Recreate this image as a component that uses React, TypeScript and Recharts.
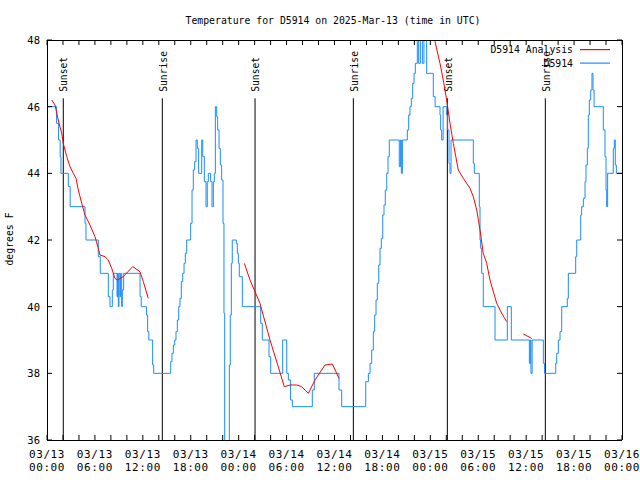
import { LineChart, Line, XAxis, YAxis, ReferenceLine } from "recharts";

const MONO = "'DejaVu Sans Mono', 'Liberation Mono', monospace";

// hours since 03/13 00:00 UTC, temperature F (observations, drawn as steps)
const observed: [number, number][] = [
  [0, 46], [1.2, 45.5], [1.45, 45], [1.65, 44.5], [1.75, 44], [2.67, 43.6], [2.9, 43],
  [4.76, 42.5], [4.88, 42], [6.42, 41.5], [6.67, 41], [7.68, 40.3], [7.89, 40], [8.18, 40.5],
  [8.3, 41], [8.77, 40.3], [8.85, 41], [8.93, 40], [9.01, 41], [9.14, 40.3], [9.22, 41],
  [9.35, 40], [9.43, 40.5], [9.6, 41], [11.65, 40.3], [11.8, 40], [12.45, 39.75], [12.6, 39.25],
  [12.75, 39], [13.23, 38.25], [13.36, 38], [15.49, 38.35], [15.65, 38.6], [15.82, 38.85],
  [15.99, 39], [16.15, 39.25], [16.32, 39.6], [16.49, 40], [16.65, 40.25], [16.82, 40.75],
  [16.99, 41], [17.16, 41.3], [17.32, 41.6], [17.49, 42], [17.99, 42.5], [18.16, 43.5],
  [18.32, 44.1], [18.49, 44.35], [18.66, 45], [18.82, 44.75], [18.99, 44], [19.37, 45],
  [19.5, 44.5], [19.7, 43.75], [19.91, 43], [20.07, 43.75], [20.2, 44], [20.49, 43.75],
  [20.66, 43], [20.83, 43.75], [20.95, 44], [21.08, 46], [21.25, 45.7], [21.37, 45.3],
  [21.54, 44.75], [21.7, 44.25], [21.87, 43.8], [22.04, 42.5], [22.16, 39.8], [22.25, 35.5],
  [22.83, 38.25], [22.95, 39.75], [23.08, 41.3], [23.2, 42], [23.7, 41.9], [23.83, 41.6],
  [23.96, 41.3], [24.08, 40.9], [24.46, 40], [26.76, 39.5], [26.96, 39], [27.8, 38.5],
  [28.01, 38], [29.51, 39], [30.02, 38], [30.22, 37.8], [30.5, 37.2], [30.72, 37],
  [33.22, 37.5], [33.47, 38], [36.56, 37.5], [36.9, 37], [39.91, 37.75], [40.24, 38],
  [40.45, 38.3], [40.66, 38.7], [40.86, 39.25], [41.03, 39.75], [41.2, 40.2], [41.36, 40.7],
  [41.54, 41.25], [41.7, 41.75], [41.86, 42.05], [42.04, 42.75], [42.2, 43.05], [42.36, 43.5],
  [42.54, 44], [42.7, 44.5], [42.86, 45], [44.11, 44.2], [44.25, 45], [44.37, 44], [44.5, 45],
  [45.12, 45.3], [45.29, 45.75], [45.45, 46], [45.62, 46.25], [45.79, 46.7], [45.96, 47],
  [46.12, 47.3], [46.37, 48.2], [46.54, 47.3], [46.75, 48.2], [47.0, 47.3], [47.2, 48.2],
  [47.54, 47], [48.37, 46.3], [48.6, 46], [49.21, 45.75],
  [49.29, 45.3], [49.42, 45], [49.6, 46], [50.05, 45.75], [50.17, 45.3], [50.34, 44.3],
  [50.46, 44], [50.59, 45], [53.38, 44.3], [53.51, 44], [54.13, 43], [54.22, 42],
  [54.3, 41.75], [54.43, 41], [54.63, 40], [56.1, 39], [57.64, 40], [58.14, 39], [60.4, 38.3],
  [60.52, 39], [60.6, 38], [60.75, 39], [62.15, 38.3], [62.3, 38], [63.7, 38.3], [63.82, 38.6],
  [64.03, 39], [64.24, 39.25], [64.45, 40], [65.15, 40.25], [65.28, 41], [66.2, 41.5],
  [66.33, 42], [66.83, 42.75], [66.95, 43], [67.16, 43.25], [67.37, 43.75], [67.49, 44.25],
  [67.66, 44.75], [67.78, 45.75], [67.91, 46.2], [68.08, 46.5], [68.24, 47], [68.37, 46.5],
  [68.5, 46], [69.66, 45.3], [69.87, 44.5], [70.0, 43.5], [70.08, 43], [70.2, 44],
  [70.91, 44.75], [71.04, 45], [71.16, 44.25], [71.29, 44], [72, 44],
];

// analysis runs (gaps between them)
const analysisRun1: [number, number][] = [
  [0.59, 46.2], [1.0, 46.05], [1.41, 45.6], [1.84, 45.2], [2.04, 44.9], [2.47, 44.5],
  [2.88, 44.2], [3.29, 44.0], [3.63, 43.85], [3.92, 43.5], [4.35, 43.1], [4.76, 42.75],
  [5.38, 42.45], [6.01, 42.1], [6.42, 41.75], [6.64, 41.55], [7.26, 41.5], [7.68, 41.4],
  [8.1, 41.15], [8.51, 40.85], [8.8, 40.8], [9.55, 40.9], [10.73, 41.2], [11.65, 41.05],
  [12.06, 40.75], [12.68, 40.25],
];
const analysisRun2: [number, number][] = [
  [24.71, 41.3], [25.42, 40.8], [26.05, 40.45], [26.67, 40.1], [27.92, 39.0], [28.96, 38.2],
  [29.71, 37.6], [30.43, 37.65], [31.27, 37.65], [31.89, 37.6], [32.72, 37.4], [33.56, 37.8],
  [34.81, 38.25], [35.73, 38.28], [36.56, 37.85],
];
const analysisRun3: [number, number][] = [
  [48.33, 48.2], [48.59, 47.95], [49.21, 47.3], [49.62, 46.8], [50.05, 46.2], [50.46, 45.5],
  [50.88, 44.9], [51.5, 44.1], [52.13, 43.85], [52.97, 43.55], [53.38, 43.3], [53.81, 42.9],
  [54.22, 42.3], [54.63, 41.6], [55.06, 41.3], [55.47, 40.8], [56.31, 40.1], [56.94, 39.8],
  [57.56, 39.55],
];
const analysisRun4: [number, number][] = [[59.64, 39.18], [60.69, 39.05]];

const sunEvents = [
  { h: 2.04, name: "Sunset" },
  { h: 14.44, name: "Sunrise" },
  { h: 26.05, name: "Sunset" },
  { h: 38.36, name: "Sunrise" },
  { h: 50.13, name: "Sunset" },
  { h: 62.4, name: "Sunrise" },
];
const sunLineTop = 46.25;

const hourTicks = [0, 2, 4, 6, 8, 10, 12, 14, 16, 18, 20, 22, 24, 26, 28, 30, 32, 34, 36, 38,
  40, 42, 44, 46, 48, 50, 52, 54, 56, 58, 60, 62, 64, 66, 68, 70, 72];
const labelHours = [0, 6, 12, 18, 24, 30, 36, 42, 48, 54, 60, 66, 72];
const labelDates = ["03/13", "03/13", "03/13", "03/13", "03/14", "03/14", "03/14", "03/14",
  "03/15", "03/15", "03/15", "03/15", "03/16"];
const labelClock = ["00:00", "06:00", "12:00", "18:00", "00:00", "06:00", "12:00", "18:00",
  "00:00", "06:00", "12:00", "18:00", "00:00"];
const tempTicks = [36, 38, 40, 42, 44, 46, 48];

const obsData = observed.map(([h, v]) => ({ h, v }));
const analysisData = [analysisRun1, analysisRun2, analysisRun3, analysisRun4].flatMap((run, i, all) => {
  const pts = run.map(([h, v]) => ({ h, v: v as number | null }));
  if (i < all.length - 1) pts.push({ h: (run[run.length - 1][0] + all[i + 1][0][0]) / 2, v: null });
  return pts;
});

const BottomTick = (props: any) => {
  const { x, y, payload } = props;
  const i = labelHours.indexOf(payload.value);
  return (
    <g>
      <line x1={x} x2={x} y1={y} y2={y - 5} stroke="#000" />
      {i >= 0 && (
        <text x={x} y={y} textAnchor="middle" fontFamily={MONO} fontSize={11} letterSpacing={0.6} fill="#000">
          <tspan x={x} dy={18.3}>{labelDates[i]}</tspan>
          <tspan x={x} dy={12.5}>{labelClock[i]}</tspan>
        </text>
      )}
    </g>
  );
};

const TopTick = (props: any) => {
  const { x, y } = props;
  return <line x1={x} x2={x} y1={y} y2={y + 5} stroke="#000" />;
};

const LeftTick = (props: any) => {
  const { x, y, payload } = props;
  return (
    <g>
      <line x1={x + 7} x2={x + 12} y1={y} y2={y} stroke="#000" />
      <text x={x} y={y} dy={4} textAnchor="end" fontFamily={MONO} fontSize={10.5} fill="#000">
        {payload.value}
      </text>
    </g>
  );
};

const RightTick = (props: any) => {
  const { x, y } = props;
  return <line x1={x} x2={x - 5} y1={y} y2={y} stroke="#000" />;
};

const sunLabel = (text: string) => (props: any) => {
  const vb = props.viewBox || {};
  const x = vb.x;
  const y = vb.y - 6.5;
  return (
    <text x={x} y={y} dy={4.2} transform={`rotate(-90 ${x} ${y})`} fontFamily={MONO} fontSize={9.7} fill="#000">
      {text}
    </text>
  );
};

const axisStroke = { stroke: "#000", shapeRendering: "crispEdges" };

export default function App() {
  return (
    <div style={{ position: "absolute", left: 0, top: 0, width: 640, height: 480, background: "#fff" }}>
      <LineChart width={640} height={480} margin={{ top: 0, right: 0, bottom: 0, left: 0 }}>
        <XAxis
          xAxisId={0}
          dataKey="h"
          type="number"
          domain={[0, 72]}
          ticks={hourTicks}
          interval={0}
          height={40}
          tickSize={0}
          tickMargin={0}
          tickLine={false}
          axisLine={axisStroke}
          tick={<BottomTick />}
          allowDataOverflow
        />
        <XAxis
          xAxisId="top"
          orientation="top"
          dataKey="h"
          type="number"
          domain={[0, 72]}
          ticks={hourTicks}
          interval={0}
          height={40}
          tickSize={0}
          tickMargin={0}
          tickLine={false}
          axisLine={axisStroke}
          tick={<TopTick />}
          allowDataOverflow
        />
        <YAxis
          yAxisId={0}
          type="number"
          domain={[36, 48]}
          ticks={tempTicks}
          interval={0}
          width={47}
          tickSize={0}
          tickMargin={7}
          tickLine={false}
          axisLine={axisStroke}
          tick={<LeftTick />}
          allowDataOverflow
        />
        <YAxis
          yAxisId="right"
          orientation="right"
          type="number"
          domain={[36, 48]}
          ticks={tempTicks}
          interval={0}
          width={18}
          tickSize={0}
          tickMargin={0}
          tickLine={false}
          axisLine={axisStroke}
          tick={<RightTick />}
          allowDataOverflow
        />
        {sunEvents.map((s, i) => (
          <ReferenceLine
            key={i}
            segment={[{ x: s.h, y: 36 }, { x: s.h, y: sunLineTop }]}
            stroke="#000"
            strokeWidth={1}
            label={sunLabel(s.name)}
          />
        ))}
        <Line
          data={obsData}
          dataKey="v"
          type="stepAfter"
          stroke="#1a8cff"
          strokeWidth={1}
          dot={false}
          isAnimationActive={false}
        />
        <Line
          data={analysisData}
          dataKey="v"
          type="linear"
          stroke="#ff0000"
          strokeWidth={1}
          dot={false}
          connectNulls={false}
          isAnimationActive={false}
        />
      </LineChart>
      <svg width={640} height={480} style={{ position: "absolute", left: 0, top: 0, pointerEvents: "none" }}>
        <text x={333} y={24} textAnchor="middle" fontFamily={MONO} fontSize={9.8} fill="#000">
          Temperature for D5914 on 2025-Mar-13 (time in UTC)
        </text>
        <text x={13} y={239} textAnchor="middle" transform="rotate(-90 13 239)" fontFamily={MONO} fontSize={9.8} fill="#000">
          degrees F
        </text>
        <text x={573} y={52.7} textAnchor="end" fontFamily={MONO} fontSize={9.8} fill="#000">
          D5914 Analysis
        </text>
        <rect x={580} y={49} width={30} height={1.2} fill="#ff0000" />
        <text x={573} y={66.5} textAnchor="end" fontFamily={MONO} fontSize={9.8} fill="#000">
          D5914
        </text>
        <rect x={580} y={62.5} width={30} height={1.2} fill="#1a8cff" />
      </svg>
    </div>
  );
}
